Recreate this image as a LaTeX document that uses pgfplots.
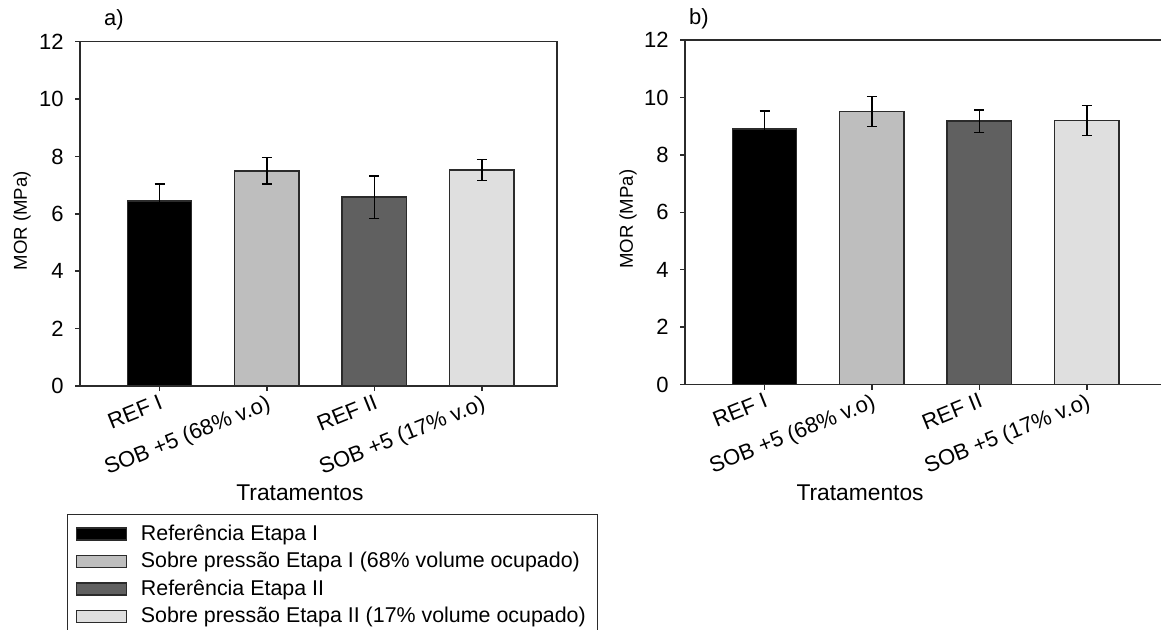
\documentclass[border=0pt]{standalone}
\usepackage{pgfplots}
\pgfplotsset{compat=1.18}
\usepackage{fontspec}
\setmainfont{Liberation Sans}

\definecolor{barA}{HTML}{000000}
\definecolor{barB}{HTML}{BEBEBE}
\definecolor{barC}{HTML}{606060}
\definecolor{barD}{HTML}{DFDFDF}
\definecolor{edge}{HTML}{2B2B2B}

\pgfplotsset{
  morpanel/.style={
    scale only axis, width=238.5pt, height=172.15pt,
    xmin=-0.74, xmax=3.70, ymin=0, ymax=12,
    xtick={0,1,2,3},
    xticklabels={REF I, SOB +5 (68\% v.o), REF II, SOB +5 (17\% v.o)},
    ytick={0,2,...,12},
    tick pos=left, tick align=outside,
    major tick length=2.5pt,
    axis line style={draw=edge, line width=0.75pt},
    every tick/.style={draw=edge, line width=0.75pt},
    ybar, bar width=0.6, clip=false,
    every axis plot/.append style={bar shift=0pt, draw=edge, line width=0.75pt},
    /pgf/number format/assume math mode=true,
    yticklabel style={font=\fontsize{11}{12}\selectfont, xshift=-2.2pt},
    xticklabel style={font=\fontsize{11}{13}\selectfont, rotate=22, anchor=north east, inner sep=1pt},
    xlabel=Tratamentos, ylabel={MOR (MPa)},
    xlabel style={anchor=center, font=\fontsize{11.4}{13}\selectfont},
    ylabel style={anchor=center, font=\fontsize{9.3}{11}\selectfont},
    legend image code/.code={\draw[#1,/tikz/.cd,line width=0.6pt] (0pt,-3pt) rectangle (25pt,3pt);},
  },
  errs/.style={error bars/.cd, y dir=both, y explicit,
    error bar style={line width=0.75pt, black},
    error mark options={rotate=90, mark size=2.5pt, line width=0.75pt, black}},
}

\begin{document}
\begin{tikzpicture}
\useasboundingbox (0,0) rectangle (580.5pt,-315pt);
\clip (0,0) rectangle (580.5pt,-315pt);

% panel a
\begin{axis}[morpanel, at={(40pt,-193pt)}, anchor=south west,
    xlabel style={at={(axis description cs:0.461,-0.311)}},
    ylabel style={at={(axis description cs:-0.1216,0.48)}},
    legend cell align=left,
    legend style={at={(axis description cs:-0.027,-0.372)}, anchor=north west,
      draw=edge, line width=0.6pt, font=\fontsize{10.7}{12}\selectfont,
      row sep=0.5pt, column sep=5pt, inner xsep=4pt, inner ysep=3pt}]
  \addplot[fill=barA, errs] coordinates {(0,6.45) +- (0,0.59)};
  \addplot[fill=barB, errs] coordinates {(1,7.50) +- (0,0.46)};
  \addplot[fill=barC, errs] coordinates {(2,6.58) +- (0,0.74)};
  \addplot[fill=barD, errs] coordinates {(3,7.53) +- (0,0.37)};
  \legend{Referência Etapa I, Sobre pressão Etapa I (68\% volume ocupado),
          Referência Etapa II, Sobre pressão Etapa II (17\% volume ocupado)}
  \node[font=\fontsize{11}{13}\selectfont] at (axis description cs:0.071,1.063) {a)};
\end{axis}

% panel b
\begin{axis}[morpanel, at={(342.5pt,-192.25pt)}, anchor=south west,
    xlabel style={at={(axis description cs:0.367,-0.315)}},
    ylabel style={at={(axis description cs:-0.1195,0.48)}}]
  \addplot[fill=barA, errs] coordinates {(0,8.90) +- (0,0.63)};
  \addplot[fill=barB, errs] coordinates {(1,9.51) +- (0,0.52)};
  \addplot[fill=barC, errs] coordinates {(2,9.18) +- (0,0.39)};
  \addplot[fill=barD, errs] coordinates {(3,9.20) +- (0,0.53)};
  \node[font=\fontsize{11}{13}\selectfont] at (axis description cs:0.029,1.063) {b)};
\end{axis}
\end{tikzpicture}
\end{document}
